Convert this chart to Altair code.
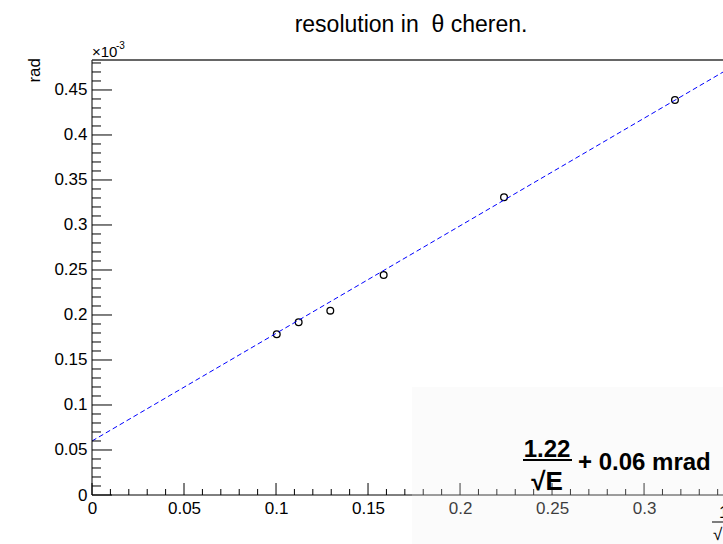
import altair as alt
import pandas as pd

# ---- data ----
inv_sqrt_e = [0.1004, 0.1123, 0.1295, 0.1585, 0.2239, 0.3168]
resolution = [0.1786, 0.1919, 0.2048, 0.2444, 0.3308, 0.4389]   # x10^-3 rad
fit_x = [0.0, 0.343]
fit_y = [0.060, 0.470]

x_major = [0, 0.05, 0.1, 0.15, 0.2, 0.25, 0.3]
y_major = [0, 0.05, 0.1, 0.15, 0.2, 0.25, 0.3, 0.35, 0.4, 0.45]
x_minor = [round(i / 100, 2) for i in range(1, 35) if i % 5]
y_minor = [round(i / 100, 2) for i in range(1, 49) if i % 5]

XMAX = 0.3429
YMAX = 0.4833
W, H = 631, 435
FONT = "Liberation Sans"

xs = alt.Scale(domain=[0, XMAX], nice=False, zero=False)
ys = alt.Scale(domain=[0, YMAX], nice=False, zero=False)

pts = pd.DataFrame({"x": inv_sqrt_e, "y": resolution})
fit = pd.DataFrame({"x": fit_x, "y": fit_y})

x_axis = alt.Axis(values=x_major, format="~g", domain=False, ticks=False, grid=False,
                  labelFont=FONT, labelFontSize=17, labelColor="black", labelFlush=False,
                  labelPadding=5, labelBaseline="top", title=None)
y_axis = alt.Axis(values=y_major, format="~g", domain=False, ticks=False, grid=False,
                  labelFont=FONT, labelFontSize=17, labelColor="black", labelFlush=False,
                  labelPadding=5, title=None)

points = alt.Chart(pts).mark_point(shape="circle", filled=False, color="black",
                                   strokeWidth=1.3, size=45, opacity=1).encode(
    x=alt.X("x:Q", scale=xs, axis=x_axis),
    y=alt.Y("y:Q", scale=ys, axis=y_axis),
)

line = alt.Chart(fit).mark_line(color="#0000ff", strokeWidth=1, strokeDash=[5, 3]).encode(
    x=alt.X("x:Q", scale=xs, axis=x_axis),
    y=alt.Y("y:Q", scale=ys, axis=y_axis),
)

ymaj = alt.Chart(pd.DataFrame({"y": y_major})).mark_rule(color="black", strokeWidth=1).encode(
    y=alt.Y("y:Q", scale=ys, axis=y_axis), x=alt.value(0), x2=alt.value(20))
ymin = alt.Chart(pd.DataFrame({"y": y_minor})).mark_rule(color="black", strokeWidth=1).encode(
    y=alt.Y("y:Q", scale=ys, axis=y_axis), x=alt.value(0), x2=alt.value(9))
xmaj = alt.Chart(pd.DataFrame({"x": x_major})).mark_rule(color="black", strokeWidth=1).encode(
    x=alt.X("x:Q", scale=xs, axis=x_axis), y=alt.value(H), y2=alt.value(H - 12))
xmin = alt.Chart(pd.DataFrame({"x": x_minor})).mark_rule(color="black", strokeWidth=1).encode(
    x=alt.X("x:Q", scale=xs, axis=x_axis), y=alt.value(H), y2=alt.value(H - 6))

frame_df = pd.DataFrame({"k": [0]})
left_line = alt.Chart(frame_df).mark_rule(color="black", strokeWidth=1).encode(
    x=alt.value(0), y=alt.value(0), y2=alt.value(H))
bottom_line = alt.Chart(frame_df).mark_rule(color="black", strokeWidth=1).encode(
    x=alt.value(0), x2=alt.value(W + 5), y=alt.value(H))
top_line = alt.Chart(frame_df).mark_rule(color="#333333", strokeWidth=1.5).encode(
    x=alt.value(0), x2=alt.value(W + 5), y=alt.value(0))

def txt(text, x, y, size, align="left", baseline="alphabetic", weight="normal", angle=0):
    kw = dict(text=text, font=FONT, fontSize=size, align=align, baseline=baseline,
              fontWeight=weight, color="black")
    if angle:
        kw["angle"] = angle
    return alt.Chart(frame_df).mark_text(**kw).encode(x=alt.value(x), y=alt.value(y))

title = txt("resolution in \u00a0\u03b8 cheren.", 319, -28, 23, align="center")
exp1 = txt("\u00d710", 0, -3, 15)
exp2 = txt("-3", 24, -11, 10)
ytitle = txt("rad", -52, -2, 17, align="right", angle=270)

# legend box (very light shaded pattern)
box = alt.Chart(frame_df).mark_rect(color="#eeeeee", opacity=0.25).encode(
    x=alt.value(320), x2=alt.value(W + 10), y=alt.value(327), y2=alt.value(H + 60))

num = txt("1.22", 455, 397, 24, align="center", weight="bold")
bar = alt.Chart(frame_df).mark_rule(color="black", strokeWidth=2).encode(
    x=alt.value(431), x2=alt.value(480), y=alt.value(400))
den = txt("\u221aE", 455, 430, 26, align="center", weight="bold")
rest = txt("+ 0.06 mrad", 486, 410, 24, weight="bold")

# x-axis title 1/sqrt(E), mostly cut by the right edge
xt1 = txt("1", 627, 458, 17)
xtbar = alt.Chart(frame_df).mark_rule(color="black", strokeWidth=1.2).encode(
    x=alt.value(620), x2=alt.value(660), y=alt.value(462))
xt2 = txt("\u221a", 621, 480, 17)

chart = alt.layer(
    points, line, ymaj, ymin, xmaj, xmin, left_line, bottom_line, top_line,
    title, exp1, exp2, ytitle, box, num, bar, den, rest, xt1, xtbar, xt2,
).properties(
    width=W, height=H,
    autosize=alt.AutoSizeParams(type="none"),
    padding={"left": 92, "top": 60, "right": 0, "bottom": 49},
    background="white",
).configure_view(stroke=None)

chart.save("out.html", embed_options={"renderer": "svg", "actions": False})
